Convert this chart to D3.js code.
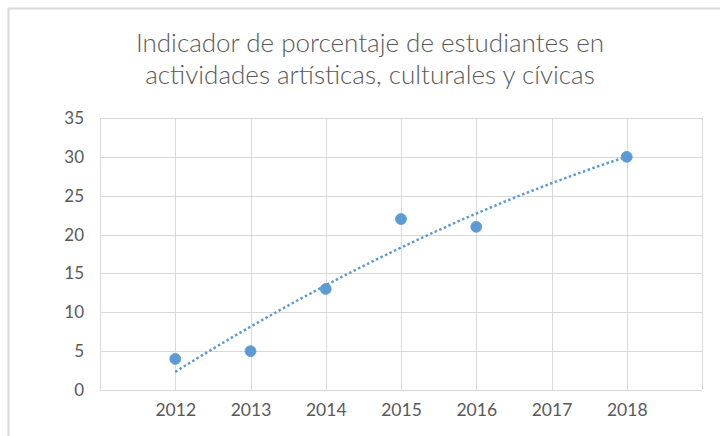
<!DOCTYPE html>
<html>
<head>
<meta charset="utf-8">
<script src="https://cdn.jsdelivr.net/npm/d3@7"></script>
<style>
    body {margin:0; background:#fff;}
    svg text {font-family: Lato, "Open Sans", sans-serif;}
</style>
</head>
<body>
<svg id="chart" width="720" height="436"></svg>
<script>
const titleLines = ["Indicador de porcentaje de estudiantes en", "actividades artísticas, culturales y cívicas"];
const years = [2012, 2013, 2014, 2015, 2016, 2018];
const values = [4, 5, 13, 22, 21, 30];
const xTickLabels = [2012, 2013, 2014, 2015, 2016, 2017, 2018];
const xGrid = [2011, 2012, 2013, 2014, 2015, 2016, 2017, 2018, 2019];
const yTicks = [0, 5, 10, 15, 20, 25, 30, 35];

const svg = d3.select("#chart");
const margin = {left:100, right:18, top:118, bottom:46};
const width = 720, height = 436;

const x = d3.scaleLinear().domain([2011, 2019]).range([margin.left, width - margin.right]);
const y = d3.scaleLinear().domain([0, 35]).range([height - margin.bottom, margin.top]);

// chart frame
svg.append("path")
    .attr("d", "M8.5,436 L8.5,8.5 L720,8.5")
    .attr("fill", "none")
    .attr("stroke", "#d9d9d9")
    .attr("stroke-width", 2);

// title
svg.append("g").selectAll("text")
    .data(titleLines)
    .enter()
    .append("text")
    .attr("x", 370)
    .attr("y", (d, i) => 52 + i*32)
    .attr("text-anchor", "middle")
    .attr("fill", "#595959")
    .style("font-size", "26px")
    .style("font-weight", 300)
    .text(d => d);

// gridlines
svg.append("g").selectAll("line")
    .data(yTicks)
    .enter()
    .append("line")
    .attr("x1", x(2011)).attr("x2", x(2019))
    .attr("y1", d => Math.round(y(d)) + 0.5).attr("y2", d => Math.round(y(d)) + 0.5)
    .attr("stroke", "#d9d9d9");

svg.append("g").selectAll("line")
    .data(xGrid)
    .enter()
    .append("line")
    .attr("x1", d => Math.round(x(d)) + 0.5).attr("x2", d => Math.round(x(d)) + 0.5)
    .attr("y1", y(0)).attr("y2", y(35))
    .attr("stroke", "#d9d9d9");

// axes labels
const yAxis = d3.axisLeft(y).tickValues(yTicks).tickSize(0).tickPadding(16);
svg.append("g")
    .attr("transform", `translate(${margin.left},0)`)
    .call(yAxis)
    .call(g => g.select(".domain").remove())
    .selectAll("text")
    .attr("fill", "#595959")
    .style("font-size", "17px");

const xAxis = d3.axisBottom(x).tickValues(xTickLabels).tickFormat(d3.format("d")).tickSize(0).tickPadding(14);
svg.append("g")
    .attr("transform", `translate(0,${y(0)})`)
    .call(xAxis)
    .call(g => g.select(".domain").remove())
    .selectAll("text")
    .attr("fill", "#595959")
    .style("font-size", "17.5px");

// polynomial (order 2) trendline, least squares on the data
function polyFit(xs, ys) {
    const x0 = xs[0];
    let s = [0,0,0,0,0], t = [0,0,0];
    xs.forEach((xv, i) => {
        const u = xv - x0;
        for (let k = 0; k < 5; k++) s[k] += Math.pow(u, k);
        for (let k = 0; k < 3; k++) t[k] += Math.pow(u, k) * ys[i];
    });
    const m = [[s[0],s[1],s[2],t[0]],[s[1],s[2],s[3],t[1]],[s[2],s[3],s[4],t[2]]];
    for (let i = 0; i < 3; i++) {
        for (let j = i+1; j < 3; j++) {
            const f = m[j][i] / m[i][i];
            for (let k = i; k < 4; k++) m[j][k] -= f * m[i][k];
        }
    }
    const c = [0,0,0];
    for (let i = 2; i >= 0; i--) {
        let v = m[i][3];
        for (let k = i+1; k < 3; k++) v -= m[i][k] * c[k];
        c[i] = v / m[i][i];
    }
    return xv => c[0] + c[1]*(xv - x0) + c[2]*(xv - x0)*(xv - x0);
}

const fit = polyFit(years, values);
const trendX = d3.range(years[0], years[years.length-1] + 0.001, 0.05);
svg.append("path")
    .datum(trendX)
    .attr("d", d3.line().x(d => x(d)).y(d => y(fit(d))))
    .attr("fill", "none")
    .attr("stroke", "#5b9bd5")
    .attr("stroke-width", 2.5)
    .attr("stroke-dasharray", "2.5,2.5");

// points
svg.append("g").selectAll("circle")
    .data(years)
    .enter()
    .append("circle")
    .attr("cx", d => x(d))
    .attr("cy", (d, i) => y(values[i]))
    .attr("r", 5.5)
    .attr("fill", "#5b9bd5")
    .attr("stroke", "#5b9bd5")
    .attr("stroke-width", 0.75);
</script>
</body>
</html>
